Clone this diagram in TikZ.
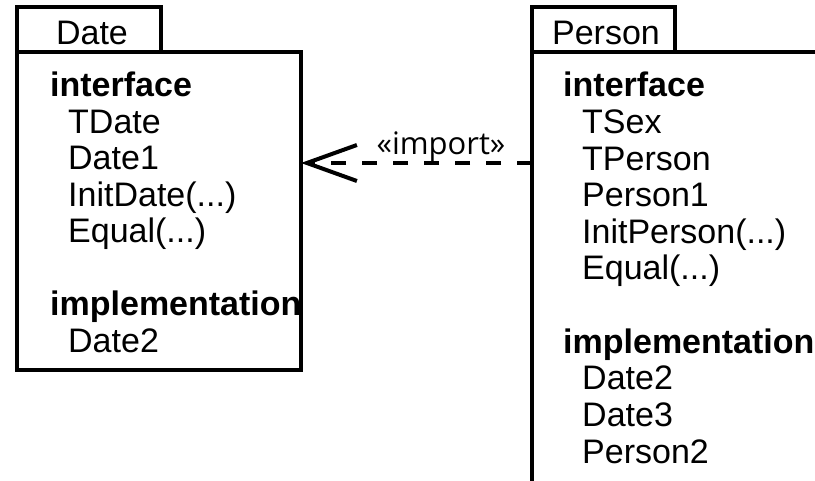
\documentclass[tikz,border=0pt]{standalone}
\usepackage{fontspec}
\setmainfont{Liberation Sans}
\newfontfamily\labelfont{Open Sans}
\usetikzlibrary{arrows.meta}
\begin{document}
\begin{tikzpicture}[x=1pt,y=-1pt,
  frame/.style={draw=black,line width=4pt,fill=white},
  txt/.style={anchor=base west,inner sep=0pt,font=\fontsize{34}{36}\selectfont},
  head/.style={txt,font=\fontsize{34}{36}\selectfont\bfseries},
  tabtxt/.style={anchor=base,inner sep=0pt,font=\fontsize{34}{36}\selectfont},
  dep/.style={line width=4pt,dash pattern=on 15pt off 16pt,
    -{Straight Barb[length=50pt,width=36pt,line width=4pt]}},
  stereo/.style={anchor=base,inner sep=0pt,font=\labelfont\fontsize{31}{33}\selectfont}]
\useasboundingbox (0,0) rectangle (815,481);
\begin{scope}
\clip (0,0) rectangle (815,481);
% package Date: tab and body
\path[frame] (17,7) rectangle (161,52);
\path[frame] (17,52) rectangle (301,370);
\coordinate (dbodyE) at (301,163);
\node[tabtxt] (dname) at (92,45) {Date};
\begin{scope}
\clip (19,54) rectangle (298,368);
\node[head] (dint) at (50,97) {interface};
\node[txt] (d1) at (68,133.5) {TDate};
\node[txt] (d2) at (68,170) {Date1};
\node[txt] (d3) at (68,206.5) {InitDate(...)};
\node[txt] (d4) at (68,243) {Equal(...)};
\node[head] (dimp) at (50,316) {implementation};
\node[txt] (d5) at (68,352.5) {Date2};
\end{scope}
% package Person: tab and body (runs past the page edge)
\path[frame] (532,7) rectangle (675,52);
\path[frame] (532,52) rectangle (900,600);
\coordinate (pbodyW) at (532,163);
\node[tabtxt] (pname) at (606,45) {Person};
\node[head] (pint) at (563,97) {interface};
\node[txt] (p1) at (582,133.6) {TSex};
\node[txt] (p2) at (582,170.2) {TPerson};
\node[txt] (p3) at (582,206.8) {Person1};
\node[txt] (p4) at (582,243.4) {InitPerson(...)};
\node[txt] (p5) at (582,280) {Equal(...)};
\node[head] (pimp) at (563,353.2) {implementation};
\node[txt] (p6) at (582,389.8) {Date2};
\node[txt] (p7) at (582,426.4) {Date3};
\node[txt] (p8) at (582,463) {Person2};
% import dependency
\draw[dep] (pbodyW) -- (dbodyE);
\node[stereo] (imp) at (441,155) {«import»};
\end{scope}
\end{tikzpicture}
\end{document}
